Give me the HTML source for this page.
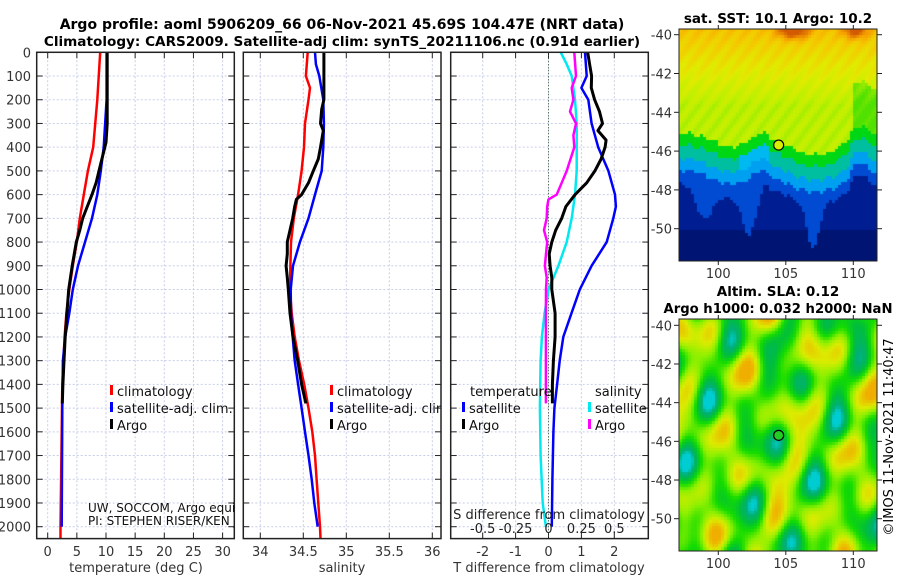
<!DOCTYPE html>
<html><head><meta charset="utf-8">
<style>
html,body{margin:0;padding:0;background:#fff;}
#wrap{position:relative;width:900px;height:580px;overflow:hidden;font-family:"DejaVu Sans","Liberation Sans",sans-serif;}
svg{position:absolute;left:0;top:0;}
canvas{position:absolute;}
text{font-family:"DejaVu Sans","Liberation Sans",sans-serif;}
</style></head>
<body>
<div id="wrap">
<canvas id="map1" style="left:679px;top:29px" width="198" height="232"></canvas>
<canvas id="map2" style="left:679px;top:319px" width="198" height="232"></canvas>
<svg id="fig" width="900" height="580" xmlns="http://www.w3.org/2000/svg">
<text x="342" y="29" text-anchor="middle" font-size="14" font-weight="bold">Argo profile: aoml 5906209_66 06-Nov-2021 45.69S 104.47E (NRT data)</text>
<text x="342" y="46" text-anchor="middle" font-size="13.6" font-weight="bold">Climatology: CARS2009. Satellite-adj clim: synTS_20211106.nc (0.91d earlier)</text>
<text x="778" y="23" text-anchor="middle" font-size="13.5" font-weight="bold">sat. SST: 10.1 Argo: 10.2</text>
<text x="778" y="296" text-anchor="middle" font-size="13.5" font-weight="bold">Altim. SLA: 0.12</text>
<text x="778" y="313" text-anchor="middle" font-size="13.2" font-weight="bold">Argo h1000: 0.032 h2000: NaN</text>
<text transform="translate(893,437) rotate(-90)" text-anchor="middle" font-size="13">©IMOS 11-Nov-2021 11:40:47</text>
</svg>
</div>
<script>
// ---------- data ----------
const tClimDepth=[0,200,400,500,600,700,800,900,1000,1100,1200,1400,1600,1800,2000,2050];
const tClimVal=[9.0,8.5,7.8,6.9,6.2,5.5,5.0,4.3,3.7,3.2,2.9,2.5,2.4,2.3,2.2,2.2];
const tSatDepth=[0,200,400,500,600,700,800,900,1000,1100,1200,1300,1500,2000];
const tSatVal=[10.1,10.1,9.6,9.1,8.5,7.6,6.4,5.2,4.3,3.7,3.0,2.6,2.5,2.4];
const tArgoDepth=[0,100,300,380,450,500,550,600,650,700,750,800,900,1000,1100,1200,1300,1400,1480];
const tArgoVal=[10.2,10.2,10.2,10.0,9.3,8.8,8.3,7.6,6.8,6.0,5.5,4.9,4.2,3.6,3.3,3.0,2.8,2.6,2.5];

const sClimDepth=[0,100,150,200,300,400,500,600,700,800,900,1000,1100,1200,1300,1400,1500,1600,1700,1800,1900,2000,2050];
const sClimVal=[34.551,34.53,34.578,34.56,34.52,34.508,34.48,34.44,34.39,34.357,34.35,34.345,34.365,34.40,34.45,34.51,34.56,34.605,34.636,34.655,34.675,34.694,34.70];
const sSatDepth=[0,50,100,200,300,400,500,600,700,800,900,1000,1100,1200,1300,1400,1500,1600,1700,1800,1900,2000];
const sSatVal=[34.636,34.647,34.686,34.733,34.74,34.733,34.714,34.636,34.56,34.46,34.38,34.353,34.357,34.377,34.40,34.44,34.48,34.52,34.56,34.598,34.628,34.667];
const sArgoDepth=[0,200,240,300,330,400,450,500,550,600,620,650,700,750,800,850,900,950,1000,1100,1200,1300,1400,1480];
const sArgoVal=[34.74,34.74,34.714,34.70,34.733,34.70,34.674,34.616,34.56,34.48,34.42,34.40,34.377,34.345,34.314,34.314,34.30,34.314,34.326,34.345,34.38,34.435,34.48,34.53];

const dtSatDepth=[0,100,150,200,300,400,500,600,650,700,800,900,1000,1100,1200,1300,1400,1500,1600,1800,2000];
const dtSatVal=[1.11,1.16,1.0,1.21,1.31,1.51,1.82,2.02,2.05,1.97,1.77,1.31,0.95,0.70,0.45,0.34,0.26,0.18,0.15,0.12,0.10];
const dtArgoDepth=[0,50,100,150,200,250,300,330,370,400,450,500,550,600,650,700,750,800,850,900,950,1000,1100,1200,1300,1400,1480];
const dtArgoVal=[1.19,1.25,1.31,1.30,1.40,1.55,1.64,1.50,1.75,1.72,1.60,1.41,1.16,0.81,0.53,0.40,0.22,0.10,0.02,0.05,0.10,0.10,0.2,0.2,0.15,0.12,0.12];
const dsSatDepth=[0,50,100,200,300,400,500,600,700,800,900,1000,1100,1200,1300,1500,1700,1900,2000];
const dsSatVal=[0.093,0.138,0.176,0.201,0.214,0.214,0.214,0.201,0.176,0.138,0.075,0.0,-0.03,-0.05,-0.06,-0.065,-0.06,-0.044,-0.02];
const dsArgoDepth=[0,100,150,200,250,300,350,400,500,550,600,620,650,700,750,800,850,900,950,1000,1100,1200,1300,1400,1480];
const dsArgoVal=[0.196,0.209,0.176,0.189,0.163,0.209,0.189,0.196,0.138,0.10,0.062,0.0,-0.01,-0.014,-0.034,-0.01,-0.019,-0.027,-0.014,-0.019,-0.02,-0.02,-0.02,-0.02,-0.02];

const depthTicks=[0,100,200,300,400,500,600,700,800,900,1000,1100,1200,1300,1400,1500,1600,1700,1800,1900,2000];
const tTicks=[0,5,10,15,20,25,30];
const sTicks=[34,34.5,35,35.5,36];
const sTickLabels=["34","34.5","35","35.5","36"];
const dTTicks=[-2,-1,0,1,2];
const dSTicks=[-0.5,-0.25,0,0.25,0.5];
const dSTickLabels=["-0.5","-0.25","0","0.25","0.5"];
const latTicks=[-40,-42,-44,-46,-48,-50];
const lonTicks=[100,105,110];
const argoLon=104.47, argoLat=-45.69;

// ---------- scales ----------
const TOP=52.3, BOT=538.6;
const yD=d=>52.3+d*0.2372;
const x1=t=>47.7+5.83*t;
const x2=s=>260.3+86*(s-34);
const x3=t=>548.5+32.9*t;
const x3s=s=>548.5+131.6*s;
const panels=[{l:36.7,r:234.3,id:'p1'},{l:243.3,r:441,id:'p2'},{l:450.7,r:648.3,id:'p3'}];
const NS='http://www.w3.org/2000/svg';
const svg=document.getElementById('fig');
function mk(tag,attrs,parent){const e=document.createElementNS(NS,tag);for(const k in attrs)e.setAttribute(k,attrs[k]);(parent||svg).appendChild(e);return e;}
const defs=mk('defs',{});
panels.forEach(p=>{const c=mk('clipPath',{id:'clip-'+p.id},defs);mk('rect',{x:p.l,y:TOP,width:p.r-p.l,height:BOT-TOP},c);});

function drawPanel(p,xs,ticks,labels,name){
  const g=mk('g',{});
  
  
  depthTicks.forEach(d=>{const y=yD(d);
    const gl=mk('line',{x1:p.l,x2:p.r,y1:y,y2:y,stroke:'#c8cde8','stroke-width':1,'stroke-dasharray':'2,2'},g);
    
    mk('line',{x1:p.l,x2:p.l+6,y1:y,y2:y,stroke:'#222','stroke-width':1},g);
    mk('line',{x1:p.r-6,x2:p.r,y1:y,y2:y,stroke:'#222','stroke-width':1},g);
  });
  ticks.forEach((t,i)=>{const x=xs(t);
    const gl=mk('line',{x1:x,x2:x,y1:TOP,y2:BOT,stroke:'#c8cde8','stroke-width':1,'stroke-dasharray':'2,2'},g);
    
    mk('line',{x1:x,x2:x,y1:BOT-6,y2:BOT,stroke:'#222','stroke-width':1},g);
    mk('line',{x1:x,x2:x,y1:TOP,y2:TOP+6,stroke:'#222','stroke-width':1},g);
    const tx=mk('text',{x:x,y:556,'text-anchor':'middle','font-size':13,fill:'#333'},g);tx.textContent=labels[i];
    
  });
  return g;
}
function line(g,depth,vals,xs,color,w,clip,name){
  const pts=depth.map((d,i)=>xs(vals[i]).toFixed(1)+','+yD(d).toFixed(1)).join(' ');
  const pl=mk('polyline',{points:pts,fill:'none',stroke:color,'stroke-width':w,'stroke-linejoin':'round','clip-path':'url(#clip-'+clip+')'},g);
  
  
}
const g1=drawPanel(panels[0],x1,tTicks,tTicks.map(String),'temperature-panel');
const g2=drawPanel(panels[1],x2,sTicks,sTickLabels,'salinity-panel');
const g3=drawPanel(panels[2],x3,dTTicks,dTTicks.map(String),'difference-panel');

depthTicks.forEach(d=>{const t=mk('text',{x:31,y:yD(d)+5,'text-anchor':'end','font-size':13,fill:'#333'});t.textContent=String(d);
  });

const zl=mk('line',{x1:x3(0),x2:x3(0),y1:TOP,y2:BOT,stroke:'#335533','stroke-width':1,'stroke-dasharray':'1,2'},g3);


line(g1,tClimDepth,tClimVal,x1,'#ff0000',2.5,'p1','temp-climatology-line');
line(g1,tSatDepth,tSatVal,x1,'#0000ff',2.5,'p1','temp-satellite-line');
line(g1,tArgoDepth,tArgoVal,x1,'#000000',3,'p1','temp-argo-line');
line(g2,sClimDepth,sClimVal,x2,'#ff0000',2.5,'p2','sal-climatology-line');
line(g2,sSatDepth,sSatVal,x2,'#0000ff',2.5,'p2','sal-satellite-line');
line(g2,sArgoDepth,sArgoVal,x2,'#000000',3,'p2','sal-argo-line');
line(g3,dtSatDepth,dtSatVal,x3,'#0000ff',2.5,'p3','dT-satellite-line');
line(g3,dsSatDepth,dsSatVal,x3s,'#00e8f0',2.5,'p3','dS-satellite-line');
line(g3,dsArgoDepth,dsArgoVal,x3s,'#ff00ff',2.5,'p3','dS-argo-line');
line(g3,dtArgoDepth,dtArgoVal,x3,'#000000',3,'p3','dT-argo-line');

panels.forEach(p=>{mk('rect',{x:p.l,y:TOP,width:p.r-p.l,height:BOT-TOP,fill:'none',stroke:'#222','stroke-width':1.5});});

const sAx=mk('g',{});

dSTicks.forEach((s,i)=>{const t=mk('text',{x:x3s(s),y:533,'text-anchor':'middle','font-size':13,fill:'#222'},sAx);t.textContent=dSTickLabels[i];
  });
const st=mk('text',{x:549,y:519,'text-anchor':'middle','font-size':13,fill:'#222'},sAx);st.textContent='S difference from climatology';

[[136,'temperature (deg C)','x-axis-title-temperature'],[342,'salinity','x-axis-title-salinity'],[549,'T difference from climatology','x-axis-title-tdiff']].forEach(a=>{
  const t=mk('text',{x:a[0],y:572,'text-anchor':'middle','font-size':13,fill:'#333'});t.textContent=a[1];
  });

function legend(x,y,color,label,name,clip){
  const g=mk('g',clip?{'clip-path':'url(#clip-'+clip+')'}:{});
  
  
  mk('rect',{x:x,y:y-11,width:3,height:10,fill:color},g);
  const t=mk('text',{x:x+7,y:y,'font-size':13,fill:'#111'},g);t.textContent=label;
}
legend(110,396,'#ff0000','climatology','legend-climatology-t');
legend(110,413,'#0000ff','satellite-adj. clim.','legend-satellite-t','p1');
legend(110,430,'#000000','Argo','legend-argo-t');
legend(330,396,'#ff0000','climatology','legend-climatology-s');
legend(330,413,'#0000ff','satellite-adj. clim.','legend-satellite-s','p2');
legend(330,430,'#000000','Argo','legend-argo-s');
const lt=mk('text',{x:470,y:396,'font-size':13,fill:'#111','clip-path':'url(#clip-p3)'});lt.textContent='temperature';

legend(462,413,'#0000ff','satellite','legend-dT-satellite');
legend(462,430,'#000000','Argo','legend-dT-argo');
const ls=mk('text',{x:595,y:396,'font-size':13,fill:'#111'});ls.textContent='salinity';

legend(588,413,'#00e8f0','satellite','legend-dS-satellite','p3');
legend(588,430,'#ff00ff','Argo','legend-dS-argo');

const inst=mk('g',{'clip-path':'url(#clip-p1)'});

let it=mk('text',{x:88,y:512,'font-size':12,fill:'#111'},inst);it.textContent='UW, SOCCOM, Argo equivalent';
it=mk('text',{x:88,y:525,'font-size':12,fill:'#111'},inst);it.textContent='PI: STEPHEN RISER/KEN JOHNSON';

// ---------- maps (images) ----------
function lerpStops(stops,v){
  if(v<=stops[0][0])return stops[0][1];
  for(let i=1;i<stops.length;i++){if(v<=stops[i][0]){const a=stops[i-1],b=stops[i];const f=(v-a[0])/(b[0]-a[0]);
    return [0,1,2].map(k=>Math.round(a[1][k]+(b[1][k]-a[1][k])*f));}}
  return stops[stops.length-1][1];
}
function sstColor(px,py){
  const fx=px/198;
  let front=102+14*Math.exp(-Math.pow((fx-0.25)/0.12,2))-6*Math.exp(-Math.pow((fx-0.41)/0.04,2))+22*Math.exp(-Math.pow((fx-0.68)/0.2,2))-14*Math.exp(-Math.pow((fx-0.9)/0.05,2))+2*Math.sin(px*0.5);
  const d=py-front;
  if(d<0){
    const hot=Math.exp(-Math.pow((px-113)/15,2)-Math.pow(py/8,2))+0.8*Math.exp(-Math.pow((px-175)/12,2)-Math.pow(py/8,2));
    let w=Math.max(0,1-py/75)*0.8+0.1*Math.sin(px*0.4+py*0.3)+hot*1.2;
    if(px>172&&d>-45) w-=0.5;
    return lerpStops([[-0.5,[80,225,0]],[0,[190,240,0]],[0.35,[225,235,0]],[0.75,[245,200,0]],[1.1,[245,160,0]],[1.6,[210,90,0]]],w);
  }
  const finger=(Math.exp(-Math.pow((fx-0.35)/0.05,2))+Math.exp(-Math.pow((fx-0.67)/0.04,2))+0.7*Math.exp(-Math.pow((fx-0.12)/0.06,2)))*45;
  if(d<12) return [0,215,20];
  if(d<26) return (fx>0.3&&fx<0.45)?[0,185,240]:[0,190,160];
  if(d<38) return [0,160,240];
  if(d<50+finger) return [0,75,210];
  if(py>200) return [0,20,115];
  return [0,30,145];
}
function slaColor(px,py){
  const x=px/198*14.6, y=py/232*12;
  const s=Math.sin(x*1.3+y*0.5)+Math.sin(x*0.8-y*1.4+2)+Math.cos(x*1.9+y*1.1+1)+0.7*Math.sin(y*2.3+x*0.4)+0.5*Math.cos(x*2.7-y*0.6);
  return lerpStops([[-3.3,[0,205,210]],[-2.7,[0,175,120]],[-1.6,[0,190,60]],[-0.6,[20,220,0]],[0.5,[140,240,0]],[1.6,[220,235,0]],[2.9,[240,175,0]]],s);
}
function drawMap(id,colorFn){
  const cv=document.getElementById(id),ctx=cv.getContext('2d');const cs=3;
  for(let py=0;py<cv.height;py+=cs)for(let px=0;px<cv.width;px+=cs){
    const c=colorFn(px,py);ctx.fillStyle='rgb('+c[0]+','+c[1]+','+c[2]+')';ctx.fillRect(px,py,cs,cs);}
}
drawMap('map1',sstColor);
drawMap('map2',slaColor);
function mapAxes(top,bot,ly0,ppd,name,circleFill){
  const g=mk('g',{});
  
  
  mk('rect',{x:679,y:top,width:198,height:bot-top,fill:'none',stroke:'#222','stroke-width':1},g);
  latTicks.forEach(l=>{const y=ly0+(-40-l)*ppd;
    mk('line',{x1:679,x2:674,y1:y,y2:y,stroke:'#222'},g);mk('line',{x1:877,x2:882,y1:y,y2:y,stroke:'#222'},g);
    const t=mk('text',{x:672,y:y+5,'text-anchor':'end','font-size':13,fill:'#333'},g);t.textContent=String(l);
    });
  lonTicks.forEach(l=>{const x=718.3+(l-100)*13.5;
    mk('line',{x1:x,x2:x,y1:bot,y2:bot+4,stroke:'#222'},g);mk('line',{x1:x,x2:x,y1:top,y2:top-4,stroke:'#222'},g);
    const t=mk('text',{x:x,y:bot+17,'text-anchor':'middle','font-size':13,fill:'#333'},g);t.textContent=String(l);
    });
  const c=mk('circle',{cx:718.3+(argoLon-100)*13.5,cy:ly0+(-40-argoLat)*ppd,r:5,fill:circleFill,stroke:'#000','stroke-width':1.2},g);
  
}
mapAxes(29,261,34.7,19.4,'sst-map-axes','#d8ee00');
mapAxes(319,551,325.3,19.34,'sla-map-axes','#22cc22');
</script>
</body></html>
